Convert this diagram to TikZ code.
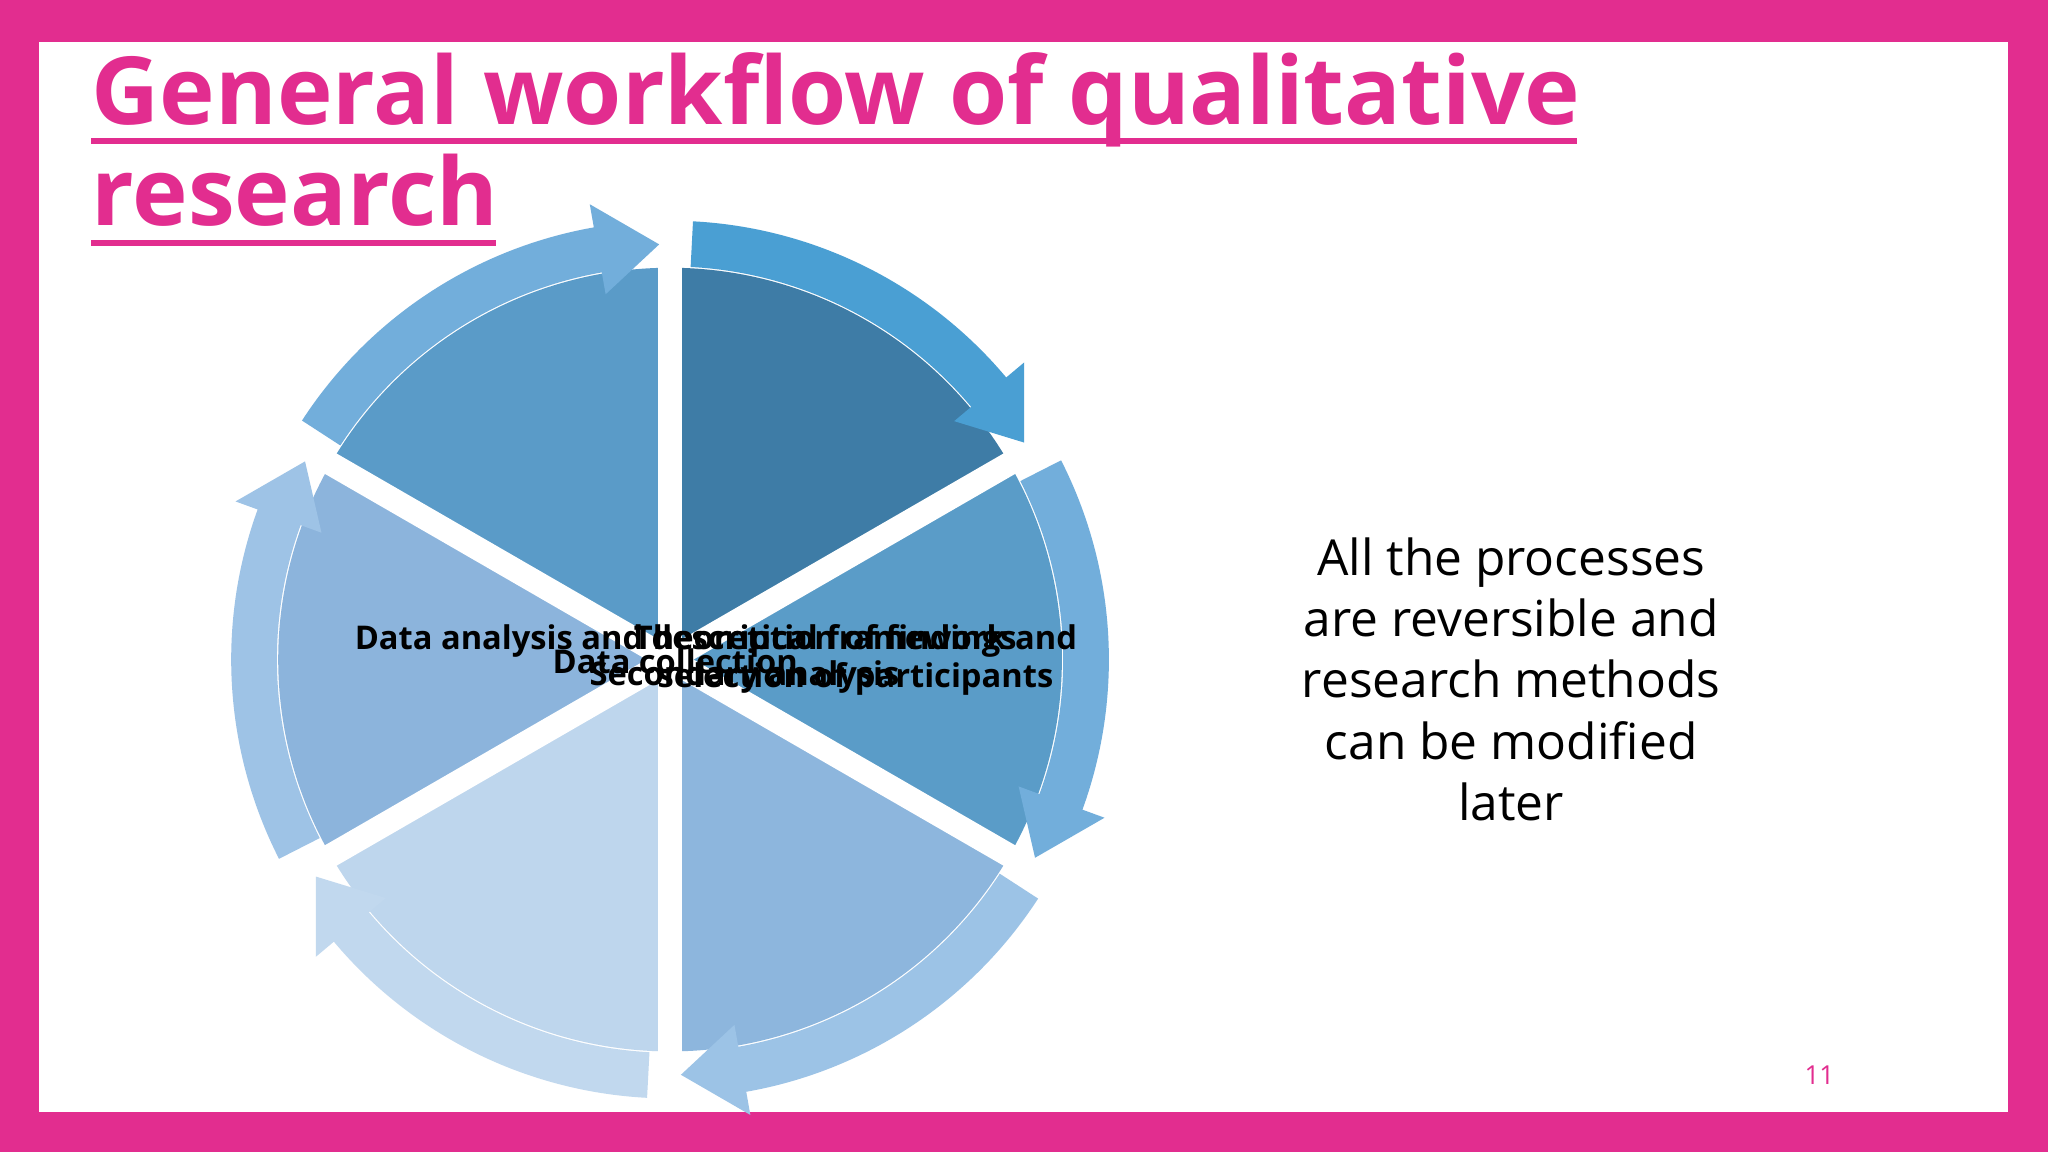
\documentclass[tikz,border=0pt]{standalone}
\usepackage{fontspec}
\setmainfont{Open Sans}
\usetikzlibrary{calc}
\definecolor{pink}{HTML}{E22D8F}
\begin{document}
\begin{tikzpicture}[x=1pt,y=1pt,
  lbl/.style={font=\bfseries\fontsize{25}{29}\selectfont,align=center,inner sep=0pt}]
\useasboundingbox (0,0) rectangle (1568,882);
\fill[pink] (0,0) rectangle (1568,882);
\fill[white] (30,31) rectangle (1537,850);
\coordinate (c) at (513,377);
% sectors
\foreach \a/\col in {90/3E7CA6,30/5A9CC8,-30/8DB6DD,-90/BED6ED,-150/8CB4DC,150/5A9BC8}{
  \definecolor{tmp}{HTML}{\col}
  \fill[tmp] (c) -- ++(\a:300) arc[start angle=\a,end angle=\a-60,radius=300] -- cycle;
}
\foreach \a in {90,30,-30,-90,-150,-210}
  \draw[white,line width=18pt] (c) -- ++(\a:338);
% arrow bands
\foreach \a/\col in {90/4A9FD3,30/72AEDB,-30/9CC3E6,-90/C1D8EE,-150/9EC3E6,150/72AEDB}{
  \definecolor{tmp}{HTML}{\col}
  \fill[tmp] ($(c)+(\a-3:301)$) arc[start angle=\a-3,end angle=\a-50,radius=301]
     -- ($(c)+(\a-50:284)$) -- ($(c)+(\a-58.5:318)$) -- ($(c)+(\a-50:354)$)
     -- ($(c)+(\a-50:336)$) arc[start angle=\a-50,end angle=\a-3,radius=336] -- cycle;
}
% overlapping labels
\node[lbl] (l1) at (525,391) {Data analysis and description of findings};
\node[lbl] (l2) at (655,377) {Theoretical framework and\\ selection of participants};
\node[lbl] (l3) at (517,376) {Data collection};
\node[lbl] (l4) at (570,364) {Secondary analysis};
% right text
\node[align=center,font=\fontsize{38}{47}\selectfont] (r) at (1157,362)
 {All the processes\\are reversible and\\research methods\\can be modified\\later};
\node[text=pink,font=\fontsize{20}{24}\selectfont] (n) at (1393,59) {11};
% title
\node[anchor=base west,text=pink,inner sep=0pt,font=\bfseries\fontsize{72}{80}\selectfont] (t1) at (70,787) {General workflow of qualitative};
\node[anchor=base west,text=pink,inner sep=0pt,font=\bfseries\fontsize{72}{80}\selectfont] (t2) at (70,709) {research};
\fill[pink] (70,772) rectangle (1207,776);
\fill[pink] (70,694) rectangle (380,698);
\end{tikzpicture}
\end{document}
